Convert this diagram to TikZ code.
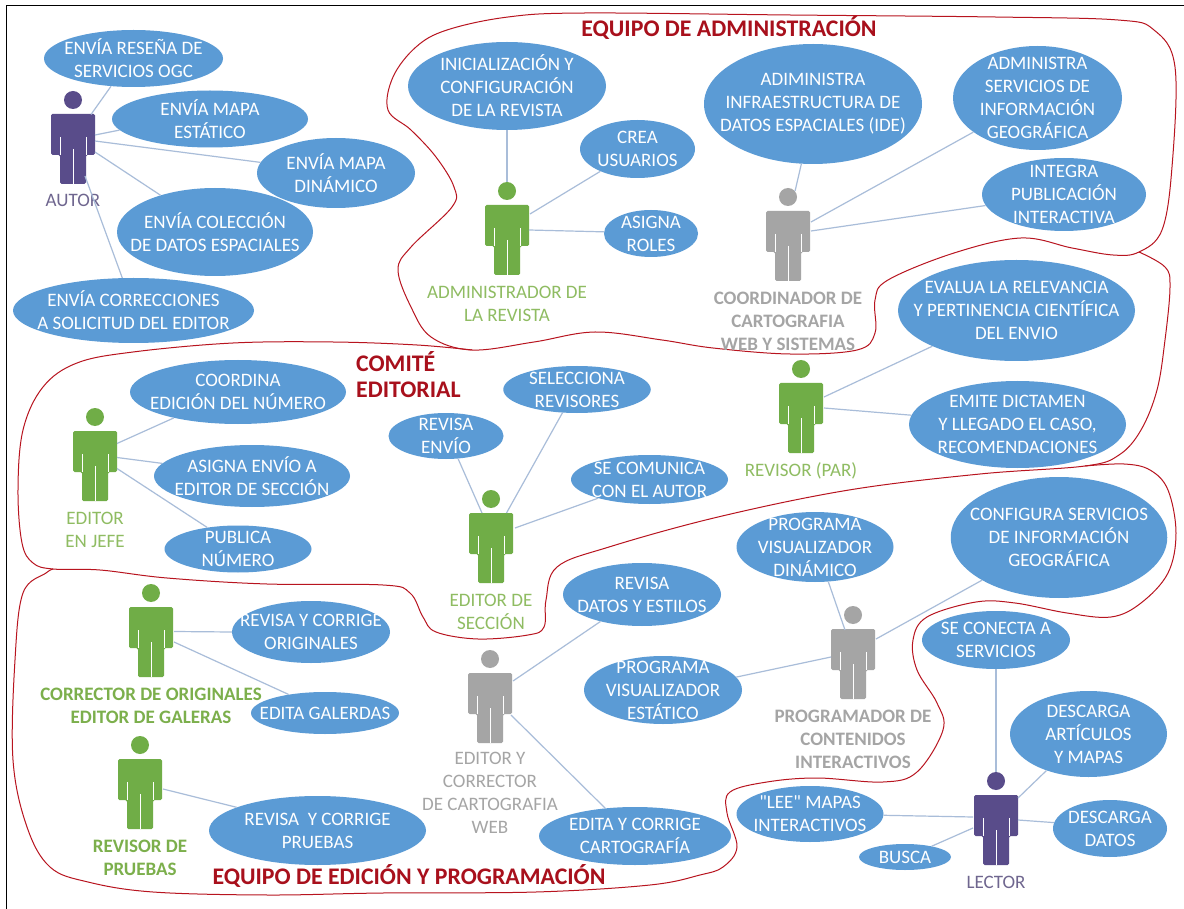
\documentclass[tikz,border=0pt]{standalone}
\usepackage{fontspec}
\setmainfont{Carlito}
\newfontfamily\plainq{Carlito}
\usetikzlibrary{shapes.geometric}
\definecolor{ublue}{HTML}{5B9BD5}
\definecolor{lnk}{HTML}{A9BDD9}
\definecolor{grn}{HTML}{70AD47}
\definecolor{grnt}{HTML}{8FBC62}
\definecolor{grnb}{HTML}{7CAF4C}
\definecolor{gry}{HTML}{A5A5A5}
\definecolor{pur}{HTML}{594C8A}
\definecolor{purt}{HTML}{6F668F}
\definecolor{teamred}{HTML}{B8141F}
\definecolor{ttl}{HTML}{A8101C}
\tikzset{
  x=1pt,y=-1pt,
  usecase/.style={ellipse,fill=ublue,inner sep=0pt},
  utext/.style={text=white,align=center,inner sep=0pt,font=\fontsize{19}{23}\selectfont},
  actlabel/.style={align=center,inner sep=0pt,font=\fontsize{19}{23}\selectfont},
  actbold/.style={actlabel,font=\fontsize{19}{23}\selectfont\bfseries},
  title/.style={text=ttl,inner sep=0pt,font=\fontsize{23.8}{28}\selectfont\bfseries,align=left},
  link/.style={draw=lnk,line width=1.2pt},
  team/.style={draw=teamred,line width=1pt},
}
% name, cx, cy, width, height, text
\newcommand\usecasenode[6]{%
  \node[usecase,minimum width=#4pt,minimum height=#5pt,label={[utext]center:{#6}}] (#1) at (#2,#3) {};}
% name, cx, top of body, colour
\newcommand\personfig[4]{%
  \begin{scope}[shift={(#2,#3)}]
    \node[circle,fill=#4,minimum size=18pt,inner sep=0pt] (#1h) at (0,-14) {};
    \fill[#4,rounded corners=1.5pt] (-22,0)--(22,0)--(22,41)--(13,41)--(13,70)--(-13,70)--(-13,41)--(-22,41)--cycle;
    \draw[white,line width=.7pt] (-13,23)--(-13,41) (13,23)--(13,41) (0,35)--(0,70);
    \node[minimum width=44pt,minimum height=70pt,inner sep=0pt] (#1) at (0,35) {};
  \end{scope}}
% body, dx, dy, use case, angle
\newcommand\conn[5]{\draw[link] ([shift={(#2,#3)}]#1.center) -- (#4.#5);}
\begin{document}
\begin{tikzpicture}
\useasboundingbox (0,0) rectangle (1184,909);
\fill[white] (0,0) rectangle (1184,909);
\draw[black,line width=1pt] (6,909)--(6,6)--(1184,6);

% team outlines
\draw[team] plot[smooth cycle,tension=.6] coordinates {(447,30)(508,17)(585,13)(790,15)(995,17)(1118,20)(1154,30)(1175,67)(1172,167)(1162,230)(1139,252)(1113,255)(1072,248)(1021,238)(954,253)(888,280)(875,300)(875,333)(857,350)(790,354)(713,348)(662,340)(595,332)(534,342)(472,350)(431,337)(411,307)(398,270)(411,247)(452,207)(454,187)(436,157)(411,130)(388,110)(393,77)(416,47)};
\draw[team] plot[smooth,tension=.6] coordinates {(472,350)(417,345)(333,342)(233,343)(133,352)(77,363)(43,387)(23,430)(18,490)(22,543)(33,563)(53,569)(100,570)(167,578)(267,584)(383,585)(410,593)(423,617)(436,632)(478,639)(528,635)(544,627)(546,600)(557,567)(609,547)(718,517)(849,490)(980,474)(1085,466)(1119,455)(1141,430)(1157,390)(1165,340)(1170,287)(1165,267)(1139,252)};
\draw[team] plot[smooth,tension=.6] coordinates {(53,569)(46,573)(23,593)(15,660)(13,760)(27,827)(50,867)(88,882)(153,892)(268,895)(383,893)(536,892)(650,885)(700,875)(723,867)(737,847)(727,813)(730,792)(767,782)(817,778)(883,782)(917,772)(943,730)(937,703)(917,670)(913,640)(927,617)(976,602)(1015,603)(1067,613)(1111,617)(1141,603)(1168,573)(1176,533)(1168,490)(1150,470)(1124,464)(1085,466)};

% titles
\node[title] (t1) at (729,28) {EQUIPO DE ADMINISTRACIÓN};
\node[title,anchor=west] (t2) at (356,362) {COMITÉ};
\node[title,anchor=west] (t3) at (356,390) {EDITORIAL};
\node[title] (t4) at (409,876) {EQUIPO DE EDICIÓN Y PROGRAMACIÓN};

% use cases
\usecasenode{ur}{133.5}{58.5}{179}{57}{ENVÍA RESEÑA DE\\SERVICIOS OGC}
\usecasenode{ue}{210}{119}{196}{57}{ENVÍA MAPA\\ESTÁTICO}
\usecasenode{ud}{336}{173}{158}{70}{ENVÍA MAPA\\DINÁMICO}
\usecasenode{uc}{215}{232}{196}{88}{ENVÍA COLECCIÓN\\DE DATOS ESPACIALES}
\usecasenode{ux}{133.5}{310.5}{241}{65}{ENVÍA CORRECCIONES\\A SOLICITUD DEL EDITOR}
\usecasenode{ai}{507}{86}{198}{88}{INICIALIZACIÓN Y\\CONFIGURACIÓN\\DE LA REVISTA}
\usecasenode{ac}{637.5}{149}{115}{58}{CREA\\USUARIOS}
\usecasenode{aa}{651}{233.5}{94}{47}{ASIGNA\\ROLES}
\usecasenode{ci}{813}{104}{218}{120}{ADIMINISTRA\\INFRAESTRUCTURA DE\\DATOS ESPACIALES (IDE)}
\usecasenode{cs}{1037.5}{98}{169}{104}{ADMINISTRA\\SERVICIOS DE\\INFORMACIÓN\\GEOGRÁFICA}
\usecasenode{cp}{1064}{194.5}{164}{73}{INTEGRA\\PUBLICACIÓN\\INTERACTIVA}
\usecasenode{re}{1016.5}{310.5}{237}{101}{EVALUA LA RELEVANCIA\\Y PERTINENCIA CIENTÍFICA\\DEL ENVIO}
\usecasenode{rd}{1017.5}{424.5}{217}{87}{EMITE DICTAMEN\\Y LLEGADO EL CASO,\\RECOMENDACIONES}
\usecasenode{jc}{238}{392}{216}{64}{COORDINA\\EDICIÓN DEL NÚMERO}
\usecasenode{ja}{252}{476}{196}{62}{ASIGNA ENVÍO A\\EDITOR DE SECCIÓN}
\usecasenode{jp}{238}{549}{147}{47}{PUBLICA\\NÚMERO}
\usecasenode{sr}{446}{436}{115}{46}{REVISA\\ENVÍO}
\usecasenode{ss}{577}{389.5}{147.5}{47}{SELECCIONA\\REVISORES}
\usecasenode{sc}{649.5}{479.5}{157}{49}{SE COMUNICA\\CON EL AUTOR}
\usecasenode{ed}{642}{594.5}{158}{63}{REVISA\\DATOS Y ESTILOS}
\usecasenode{pd}{815}{547}{157}{70}{PROGRAMA\\VISUALIZADOR\\DINÁMICO}
\usecasenode{pc}{1059}{537.5}{216.5}{121}{CONFIGURA SERVICIOS\\DE INFORMACIÓN\\GEOGRÁFICA}
\usecasenode{pe}{663}{690}{158}{68}{PROGRAMA\\VISUALIZADOR\\ESTÁTICO}
\usecasenode{oo}{311}{632}{158}{62}{REVISA Y CORRIGE\\ORIGINALES}
\usecasenode{og}{325}{713}{148}{42}{EDITA GALERDAS}
\usecasenode{vp}{317.5}{830.5}{217}{69}{REVISA \ Y CORRIGE\\PRUEBAS}
\usecasenode{ec}{635}{836}{192}{58}{EDITA Y CORRIGE\\CARTOGRAFÍA}
\usecasenode{ls}{996}{640}{148}{58}{SE CONECTA A\\SERVICIOS}
\usecasenode{la}{1088.5}{734}{157}{86}{DESCARGA\\ARTÍCULOS\\Y MAPAS}
\usecasenode{ld}{1110}{828.5}{114}{57}{DESCARGA\\DATOS}
\usecasenode{lm}{810}{814}{147}{56}{{\plainq "LEE"} MAPAS\\INTERACTIVOS}
\usecasenode{lb}{905}{857}{92}{26}{BUSCA}

% actors
\personfig{autor}{73}{114}{pur}
\personfig{admin}{507}{205}{grn}
\personfig{coord}{788}{211}{gry}
\personfig{par}{801}{383}{grn}
\personfig{jefe}{95}{431}{grn}
\personfig{secc}{491}{513}{grn}
\personfig{corr}{151}{607}{grn}
\personfig{prue}{140}{759}{grn}
\personfig{edic}{490}{673}{gry}
\personfig{prog}{853}{629}{gry}
\personfig{lect}{996}{795}{pur}

% actor labels
\node[actlabel,text=purt] (lautor) at (73,200) {AUTOR};
\node[actlabel,text=grnt] (ladmin) at (507,303.5) {ADMINISTRADOR DE\\LA REVISTA};
\node[actbold,text=gry] (lcoord) at (788,321) {COORDINADOR DE\\CARTOGRAFIA\\WEB Y SISTEMAS};
\node[actlabel,text=grnt] (lpar) at (801,471) {REVISOR (PAR)};
\node[actlabel,text=grnt] (ljefe) at (95,529.5) {EDITOR\\EN JEFE};
\node[actlabel,text=grnt] (lsecc) at (491,611.5) {EDITOR DE\\SECCIÓN};
\node[actbold,text=grnb] (lcorr) at (151,705.5) {CORRECTOR DE ORIGINALES\\EDITOR DE GALERAS};
\node[actbold,text=grnb] (lprue) at (140,857.5) {REVISOR DE\\PRUEBAS};
\node[actlabel,text=gry] (ledic) at (490,793) {EDITOR Y\\CORRECTOR\\DE CARTOGRAFIA\\WEB};
\node[actbold,text=gry] (lprog) at (853,739) {PROGRAMADOR DE\\CONTENIDOS\\INTERACTIVOS};
\node[actlabel,text=purt] (llect) at (996,882) {LECTOR};

% connectors
\conn{autor}{18}{-34.5}{ur}{231.7}
\conn{autor}{22}{-14}{ue}{187.4}
\conn{autor}{22}{-8}{ud}{172.5}
\conn{autor}{22}{3}{uc}{146.3}
\conn{autor}{12}{27}{ux}{109.5}
\draw[link] (adminh.90) -- (ai.270);
\conn{admin}{23}{-26}{ac}{211}
\conn{admin}{22}{-10}{aa}{178}
\draw[link] (coordh.40) -- (ci.259);
\conn{coord}{23}{-24}{cs}{208}
\conn{coord}{23}{-15}{cp}{188.3}
\conn{par}{23}{-21}{re}{203.9}
\conn{par}{23}{-10}{rd}{175.5}
\conn{jefe}{22}{-22.5}{jc}{202.3}
\conn{jefe}{22}{-8.5}{ja}{172}
\conn{jefe}{22}{2.5}{jp}{145.6}
\conn{secc}{-9}{-35}{sr}{298.6}
\conn{secc}{15.5}{-35}{ss}{238.5}
\conn{secc}{24}{-20}{sc}{200}
\conn{edic}{23}{-27}{ed}{213.8}
\conn{edic}{21}{7}{ec}{137}
\conn{prog}{-8}{-34}{pd}{291.4}
\conn{prog}{23}{-25}{pc}{209.4}
\conn{prog}{-22}{-7}{pe}{10.7}
\conn{corr}{23}{-10.5}{oo}{180}
\conn{corr}{23}{0}{og}{153.4}
\conn{prue}{23}{-5}{vp}{164.5}
\draw[link] (lecth.90) -- (ls.270);
\conn{lect}{22}{-32}{la}{221.9}
\conn{lect}{22}{-10}{ld}{174.5}
\conn{lect}{-23}{-13}{lm}{359}
\conn{lect}{-23}{-2}{lb}{22}
\end{tikzpicture}
\end{document}
